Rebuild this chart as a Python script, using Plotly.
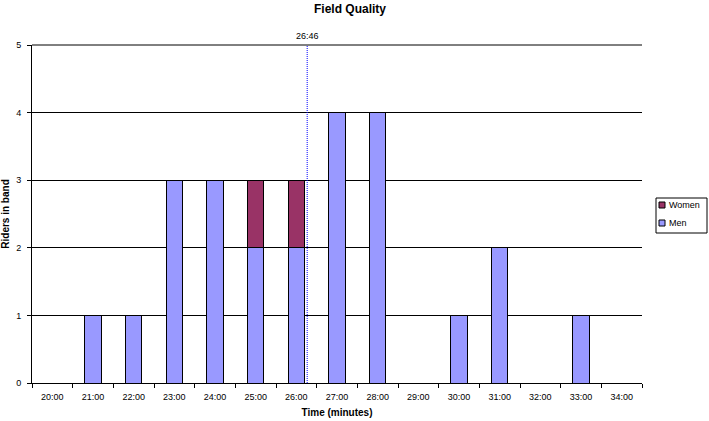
import plotly.graph_objects as go

categories = ["20:00", "21:00", "22:00", "23:00", "24:00", "25:00", "26:00", "27:00",
              "28:00", "29:00", "30:00", "31:00", "32:00", "33:00", "34:00"]
men = [0, 1, 1, 3, 3, 2, 2, 4, 4, 0, 1, 2, 0, 1, 0]
women = [0, 0, 0, 0, 0, 1, 1, 0, 0, 0, 0, 0, 0, 0, 0]
y_ticks = [0, 1, 2, 3, 4, 5]
marker_label = "26:46"
axis_start_min = 20
axis_span_min = 15

MEN_COLOR = "#9999FF"
WOMEN_COLOR = "#993366"
FONT = "Liberation Sans, Arial, sans-serif"

W, H = 709, 421
L, R, T, B = 32, 642, 45, 383


def px(xp):
    return (xp - L) / (R - L)


def py(yp):
    return (B - yp) / (B - T)


fig = go.Figure()
fig.add_trace(go.Bar(x=categories, y=men, name="Men", width=0.4, showlegend=False,
                     marker=dict(color=MEN_COLOR, line=dict(color="black", width=1))))
fig.add_trace(go.Bar(x=categories, y=women, name="Women", width=0.4, showlegend=False,
                     marker=dict(color=WOMEN_COLOR, line=dict(color="black", width=1))))

# top gridline at the maximum of the axis (plot area top edge)
fig.add_shape(type="line", xref="paper", yref="paper", x0=0, x1=1, y0=1, y1=1,
              line=dict(color="black", width=1))

mm, ss = marker_label.split(":")
frac = (int(mm) + int(ss) / 60 - axis_start_min) / axis_span_min
fig.add_shape(type="line", xref="paper", yref="paper", x0=frac, x1=frac, y0=0, y1=1,
              line=dict(color="blue", width=1, dash="1px,1px"))
fig.add_annotation(text=marker_label, xref="paper", yref="paper", x=frac, y=1,
                   yanchor="bottom", yshift=2, showarrow=False,
                   font=dict(family=FONT, size=9, color="black"))

# manual legend
fig.add_shape(type="rect", xref="paper", yref="paper", x0=px(656), x1=px(707),
              y0=py(233), y1=py(198), line=dict(color="black", width=1), fillcolor="white")
for name, color, yc in [("Women", WOMEN_COLOR, 205), ("Men", MEN_COLOR, 223)]:
    fig.add_shape(type="rect", xref="paper", yref="paper", x0=px(659), x1=px(665),
                  y0=py(yc + 3), y1=py(yc - 3), line=dict(color="black", width=1),
                  fillcolor=color)
    fig.add_annotation(text=name, xref="paper", yref="paper", x=px(667), y=py(yc),
                       xanchor="left", yanchor="middle", showarrow=False,
                       font=dict(family=FONT, size=9, color="black"))

fig.update_layout(
    barmode="stack",
    width=W, height=H,
    margin=dict(l=L, r=W - R, t=T, b=H - B, autoexpand=False),
    paper_bgcolor="white", plot_bgcolor="white",
    title=dict(text="<b>Field Quality</b>", x=350 / W, xanchor="center",
               y=1 - 9 / H, yanchor="middle",
               font=dict(family=FONT, size=12, color="black")),
    font=dict(family=FONT, size=9, color="black"),
    showlegend=False,
    bargap=0.6,
)
fig.update_xaxes(type="category", tickson="boundaries", ticks="outside", ticklen=4,
                 tickcolor="black", showline=True, linecolor="black", linewidth=1,
                 showgrid=False, tickfont=dict(family=FONT, size=9), ticklabelstandoff=5,
                 title=dict(text="<b>Time (minutes)</b>", standoff=8,
                            font=dict(family=FONT, size=10)))
fig.update_yaxes(range=[y_ticks[0], y_ticks[-1]], tickvals=y_ticks, ticks="outside", ticklen=4,
                 tickcolor="black", showline=True, linecolor="black", linewidth=1,
                 showgrid=True, gridcolor="black", gridwidth=1, zeroline=False,
                 tickfont=dict(family=FONT, size=9), ticklabelstandoff=4,
                 title=dict(text="<b>Riders in band</b>", standoff=4,
                            font=dict(family=FONT, size=10)))

fig.write_html("out.html")
